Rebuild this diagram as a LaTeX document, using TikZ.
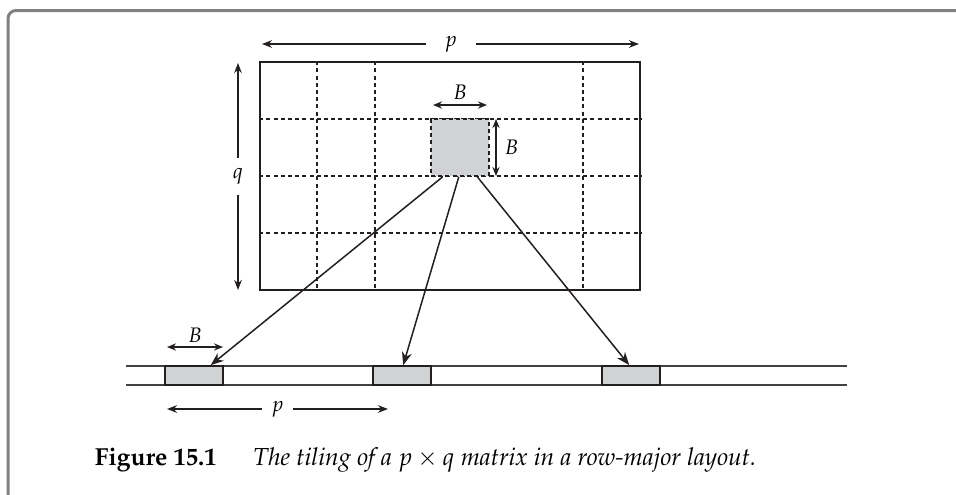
\documentclass[tikz,border=0pt]{standalone}
\usepackage[T1]{fontenc}
\usepackage{mathpazo}
\definecolor{tilegray}{RGB}{209,210,212}
\definecolor{framegray}{RGB}{128,128,128}
\definecolor{inkdark}{RGB}{35,31,32}
\usetikzlibrary{arrows.meta,calc}
\tikzset{
    dimarrow/.style={
        -{Stealth[length=5pt,width=3.8pt]}, line width=0.75pt, draw=inkdark
    },
    twoway/.style={
        {Stealth[length=4.5pt,width=3.6pt]}-{Stealth[length=4.5pt,width=3.6pt]},
        line width=0.75pt, draw=inkdark
    },
    maparrow/.style={
        -{Stealth[length=6.5pt,width=5pt]}, line width=0.75pt, draw=inkdark
    },
    gridline/.style={
        dashed, dash pattern=on 2pt off 1.6pt, line width=0.75pt, draw=inkdark
    },
    stripline/.style={line width=0.75pt, draw=inkdark!85},
    tile/.style={
        draw=inkdark, dashed, dash pattern=on 2pt off 1.6pt, line width=0.75pt,
        fill=tilegray, minimum width=29pt, minimum height=28.5pt, inner sep=0pt
    },
    blockbox/.style={
        draw=inkdark, line width=0.9pt, fill=tilegray,
        minimum width=29pt, minimum height=9.5pt, inner sep=0pt
    },
    lbl/.style={font=\fontsize{10.5}{12}\selectfont, inner sep=0pt},
    capfont/.style={font=\fontsize{12.3}{15}\selectfont#1, inner sep=0pt}
}

\begin{document}
\begin{tikzpicture}[x=0.5pt, y=-0.5pt]
    \useasboundingbox (0,0) rectangle (956,494);
    \clip (0,0) rectangle (956,494);
    % page frame
    \draw[framegray, line width=1.5pt, rounded corners=4pt] (8,1000) |- (1000,10.5);

    % the p x q matrix
    \node[draw=inkdark, line width=0.85pt, minimum width=190pt, minimum height=114pt,
          inner sep=0pt] (mat) at (450,176) {};
    \foreach \y in {119,176,233}
        \draw[gridline] (mat.west |- 0,\y) -- (mat.east |- 0,\y);
    \foreach \x in {317,375,583}
        \draw[gridline] (mat.north -| \x,0) -- (mat.south -| \x,0);
    \node[tile] (tile) at (460,147.5) {};

    % sizes of the matrix
    \node[lbl, minimum width=24.75pt] (ptop) at (450.75,44) {$p$};
    \coordinate (ptopL) at (262,44);
    \coordinate (ptopR) at (639,44);
    \draw[dimarrow] (ptop) -- (ptopL);
    \draw[dimarrow] (ptop) -- (ptopR);
    \node[lbl, minimum height=18.5pt] (qside) at (238,176.5) {$q$};
    \coordinate (qtop) at (238,63);
    \coordinate (qbot) at (238,290);
    \draw[dimarrow] (qside) -- (qtop);
    \draw[dimarrow] (qside) -- (qbot);

    % size of one tile
    \coordinate (bl) at (433,105);
    \coordinate (br) at (487,105);
    \draw[twoway] (bl) -- node[lbl, above=2.5pt] (bw) {$B$} (br);
    \coordinate (bt) at (496,119);
    \coordinate (bb) at (496,176);
    \draw[twoway] (bt) -- node[lbl, right=4pt] (bh) {$B$} (bb);

    % row-major storage
    \draw[stripline] (126,366) -- (847,366);
    \draw[stripline] (126,385) -- (847,385);
    \node[blockbox] (blk1) at (194,375.5) {};
    \node[blockbox] (blk2) at (402,375.5) {};
    \node[blockbox] (blk3) at (631,375.5) {};

    \draw[maparrow] ($(tile.south west)!0.21!(tile.south east)$) --
        ($(blk1.north west)!0.78!(blk1.north east)$);
    \draw[maparrow] ($(tile.south west)!0.48!(tile.south east)$) --
        ($(blk2.north west)!0.52!(blk2.north east)$);
    \draw[maparrow] ($(tile.south west)!0.79!(tile.south east)$) --
        ($(blk3.north west)!0.47!(blk3.north east)$);

    \coordinate (sbl) at (167,347);
    \coordinate (sbr) at (223,347);
    \draw[twoway] (sbl) -- node[lbl, above=2pt] (sb) {$B$} (sbr);
    \node[lbl, minimum width=15.5pt] (pbot) at (277.5,409) {$p$};
    \coordinate (pbotL) at (167,409);
    \coordinate (pbotR) at (388,409);
    \draw[dimarrow] (pbot) -- (pbotL);
    \draw[dimarrow] (pbot) -- (pbotR);

    % caption
    \node[capfont=\bfseries, anchor=base east] (fignum) at (217,465) {Figure 15.1};
    \node[capfont=\itshape, anchor=base west] (figtext) at (253,465)
        {The tiling of a $p \times q$ matrix in a row-major layout.};
\end{tikzpicture}
\end{document}
